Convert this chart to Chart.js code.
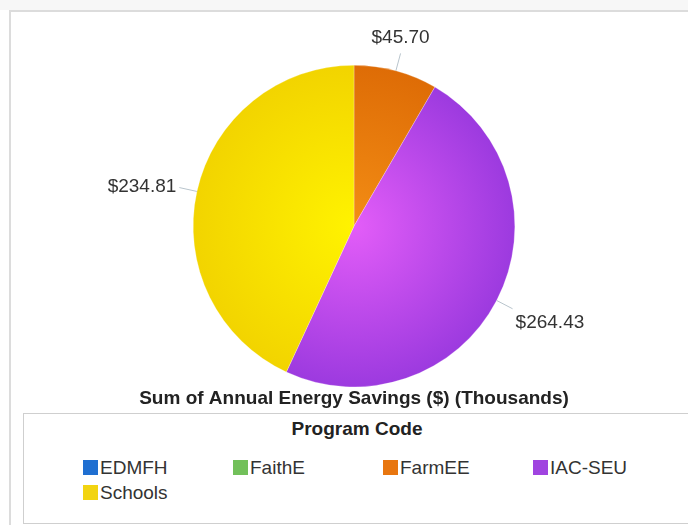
<!DOCTYPE html>
<html>
<head>
<meta charset="utf-8">
<script src="https://cdn.jsdelivr.net/npm/chart.js@4"></script>
<style>
  html, body { margin: 0; padding: 0; background: #fff; width: 688px; height: 525px; overflow: hidden; font-family: "Liberation Sans", Arial, sans-serif; }
  #topband { position: absolute; left: 0; top: 0; width: 688px; height: 10px; background: #f7f7f7; }
  #frame { position: absolute; left: 9px; top: 10px; width: 700px; height: 530px; border-left: 2px solid #dcdcdc; border-top: 2px solid #dcdcdc; }
  #chartWrap { position: absolute; left: 0; top: 0; width: 688px; height: 525px; }
  #legendBox { position: absolute; left: 23px; top: 413px; width: 680px; height: 109px; border: 1px solid #cfcfcf; background: #fff; }
  #legendTitle { position: absolute; left: 0; top: 4px; width: 666px; text-align: center; font-weight: bold; font-size: 19px; line-height: 22px; color: #222; }
  .item { position: absolute; font-size: 19px; color: #333; line-height: 22px; white-space: nowrap; }
  .item span.box { display: inline-block; width: 15px; height: 15px; margin-right: 2px; vertical-align: -1px; }
</style>
</head>
<body>
<div id="topband"></div>
<div id="frame"></div>
<div id="legendBox"><div id="legendTitle">Program Code</div></div>
<div id="chartWrap"><canvas id="pie" width="688" height="525"></canvas></div>
<script>
// Data (thousands of $)
const programCodes = ['EDMFH', 'FaithE', 'FarmEE', 'IAC-SEU', 'Schools'];
const savings = [0, 0, 45.70, 264.43, 234.81];
const baseColors = ['#1f6fd1', '#72c05a', '#e8760f', '#a044e0', '#f2d411'];
const lightColors = ['#3d8ae8', '#8fd676', '#f38d14', '#e35df8', '#fff300'];
const darkColors = ['#1a5db3', '#5aa844', '#de6c06', '#9c3adf', '#f2d400'];
const chartTitle = 'Sum of Annual Energy Savings ($) (Thousands)';
const legendTitle = 'Program Code';

// Legend built from the arrays (4 columns)
const legendBox = document.getElementById('legendBox');
document.getElementById('legendTitle').textContent = legendTitle;
programCodes.forEach(function (code, i) {
    const div = document.createElement('div');
    div.className = 'item';
    div.style.left = (59 + (i % 4) * 150) + 'px';
    div.style.top = (43 + Math.floor(i / 4) * 25) + 'px';
    div.innerHTML = '<span class="box" style="background:' + baseColors[i] + '"></span>' + code;
    legendBox.appendChild(div);
});

// shaded slices
function sliceColor(context) {
    const chart = context.chart;
    const area = chart.chartArea;
    if (!area) return baseColors[context.dataIndex];
    const cx = (area.left + area.right) / 2;
    const cy = (area.top + area.bottom) / 2;
    const r = Math.min(area.right - area.left, area.bottom - area.top) / 2;
    const g = chart.ctx.createRadialGradient(cx, cy, 0, cx, cy, r);
    g.addColorStop(0, lightColors[context.dataIndex]);
    g.addColorStop(1, darkColors[context.dataIndex]);
    return g;
}

// value labels with leader lines
const outLabels = {
    id: 'outLabels',
    afterDatasetsDraw(chart) {
        const ctx = chart.ctx;
        const meta = chart.getDatasetMeta(0);
        ctx.save();
        ctx.font = '19px "Liberation Sans", Arial, sans-serif';
        ctx.fillStyle = '#333';
        ctx.strokeStyle = '#b8c4cc';
        ctx.lineWidth = 1;
        meta.data.forEach(function (arc, i) {
            const v = savings[i];
            if (!v) return;
            const p = arc.getProps(['x', 'y', 'startAngle', 'endAngle', 'outerRadius'], true);
            const mid = (p.startAngle + p.endAngle) / 2;
            const cos = Math.cos(mid), sin = Math.sin(mid);
            const x1 = p.x + cos * p.outerRadius, y1 = p.y + sin * p.outerRadius;
            const x2 = p.x + cos * (p.outerRadius + 18), y2 = p.y + sin * (p.outerRadius + 18);
            ctx.beginPath();
            ctx.moveTo(x1, y1);
            ctx.lineTo(x2, y2);
            ctx.stroke();
            const txt = '$' + v.toFixed(2);
            if (cos > 0.4) {
                ctx.textAlign = 'left';
                ctx.textBaseline = 'middle';
                ctx.fillText(txt, x2 + 3, y2 + 14);
            } else if (cos < -0.4) {
                ctx.textAlign = 'right';
                ctx.textBaseline = 'middle';
                ctx.fillText(txt, x2 - 3, y2 - 1);
            } else {
                ctx.textAlign = 'center';
                ctx.textBaseline = 'bottom';
                ctx.fillText(txt, x2, y2 - 6);
            }
        });
        ctx.restore();
    }
};

new Chart(document.getElementById('pie'), {
    type: 'pie',
    data: {
        labels: programCodes,
        datasets: [{
            data: savings,
            backgroundColor: sliceColor,
            borderColor: 'rgba(255,255,255,0.5)',
            borderWidth: 0.5
        }]
    },
    options: {
        responsive: false,
        animation: false,
        layout: { padding: { top: 65, bottom: 107, left: 20, right: 0 } },
        plugins: {
            legend: { display: false },
            tooltip: { enabled: false },
            title: {
                display: true,
                text: chartTitle,
                position: 'bottom',
                color: '#222',
                font: { family: '"Liberation Sans", Arial, sans-serif', size: 19, weight: 'bold' },
                padding: { top: 0, bottom: 8 }
            }
        }
    },
    plugins: [outLabels]
});
</script>
</body>
</html>
